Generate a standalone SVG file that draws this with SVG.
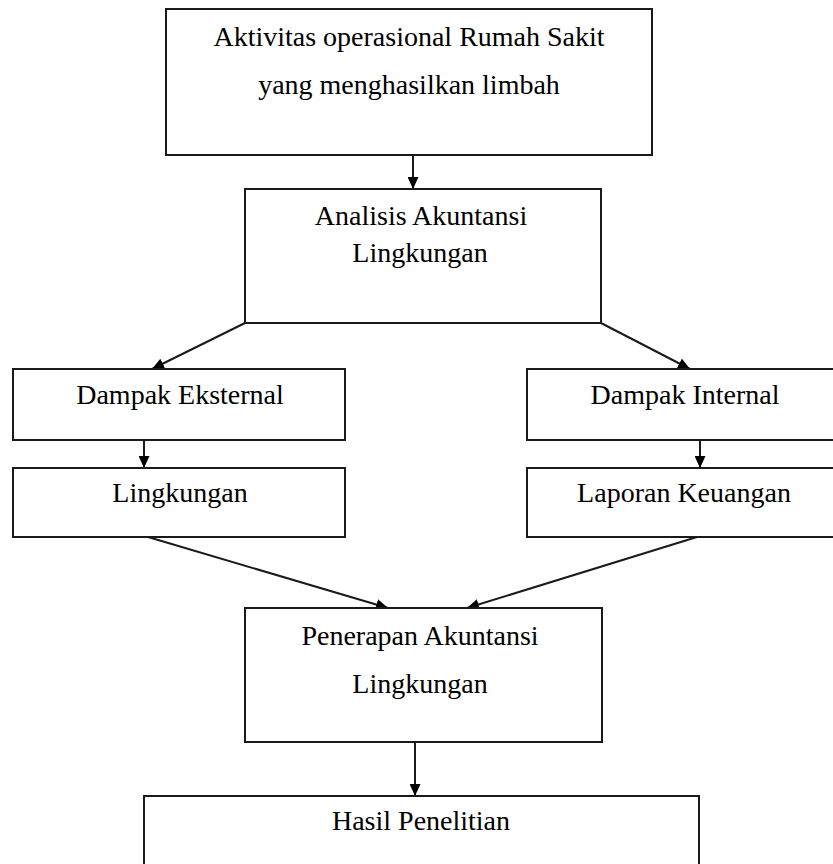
<svg xmlns="http://www.w3.org/2000/svg" width="833" height="864" viewBox="0 0 833 864">
  <style>
    .box { fill: #ffffff; stroke: #1a1a1a; stroke-width: 2; }
    .lbl { font-family: "Liberation Serif", "Times New Roman", serif; font-size: 28px; fill: #000000; text-anchor: middle; }
    .con { stroke: #1a1a1a; stroke-width: 2; fill: none; marker-end: url(#arrow); }
  </style>
  <defs>
    <marker id="arrow" markerUnits="userSpaceOnUse" viewBox="0 0 12 11" refX="12" refY="5.5" markerWidth="12" markerHeight="11" orient="auto">
      <path d="M0,0 L12,5.5 L0,11 z" fill="#000000"/>
    </marker>
  </defs>
  <rect x="0" y="0" width="833" height="864" fill="#ffffff"/>

  <g id="connectors">
    <line class="con" x1="413" y1="155" x2="413" y2="189"/>
    <line class="con" x1="245" y1="323" x2="152" y2="369"/>
    <line class="con" x1="601" y1="323" x2="690" y2="369"/>
    <line class="con" x1="144" y1="440" x2="144" y2="468"/>
    <line class="con" x1="700" y1="440" x2="700" y2="468"/>
    <line class="con" x1="148" y1="537" x2="388" y2="608"/>
    <line class="con" x1="697" y1="537" x2="467" y2="608"/>
    <line class="con" x1="415" y1="742" x2="415" y2="796"/>
  </g>

  <g id="node-aktivitas">
    <rect class="box" x="166" y="9" width="486" height="146"/>
    <text class="lbl" x="409" y="46">Aktivitas operasional Rumah Sakit</text>
    <text class="lbl" x="409" y="94">yang menghasilkan limbah</text>
  </g>

  <g id="node-analisis">
    <rect class="box" x="245" y="189" width="356" height="134"/>
    <text class="lbl" x="421" y="225">Analisis Akuntansi</text>
    <text class="lbl" x="420" y="262">Lingkungan</text>
  </g>

  <g id="node-dampak-eksternal">
    <rect class="box" x="13" y="369" width="332" height="71"/>
    <text class="lbl" x="180" y="404">Dampak Eksternal</text>
  </g>

  <g id="node-lingkungan">
    <rect class="box" x="13" y="468" width="332" height="69"/>
    <text class="lbl" x="180" y="502">Lingkungan</text>
  </g>

  <g id="node-dampak-internal">
    <rect class="box" x="527" y="369" width="320" height="71"/>
    <text class="lbl" x="685" y="404">Dampak Internal</text>
  </g>

  <g id="node-laporan-keuangan">
    <rect class="box" x="527" y="468" width="320" height="69"/>
    <text class="lbl" x="684" y="502">Laporan Keuangan</text>
  </g>

  <g id="node-penerapan">
    <rect class="box" x="245" y="608" width="357" height="134"/>
    <text class="lbl" x="420" y="645">Penerapan Akuntansi</text>
    <text class="lbl" x="420" y="693">Lingkungan</text>
  </g>

  <g id="node-hasil">
    <rect class="box" x="144" y="796" width="555" height="90"/>
    <text class="lbl" x="421" y="830">Hasil Penelitian</text>
  </g>
</svg>
